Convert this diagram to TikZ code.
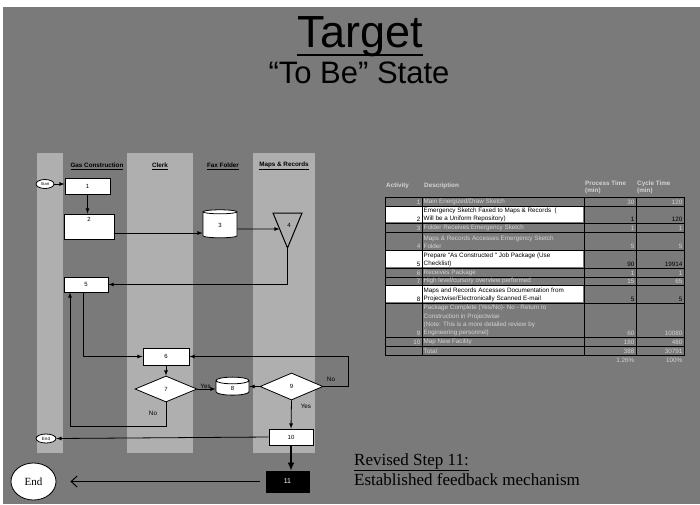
\documentclass[tikz,border=0pt]{standalone}
\usepackage{fontspec}
\setmainfont{Liberation Serif}
\newfontfamily\arialfont{Liberation Sans}
\usetikzlibrary{arrows.meta}
\usetikzlibrary{shapes.geometric}

\definecolor{slidegray}{HTML}{7A7A7A}
\definecolor{lanegray}{HTML}{AFAFAF}
\definecolor{celltext}{HTML}{D4D4D4}
\newcommand{\tabfont}{\arialfont\fontsize{6.3}{8.2}\selectfont}

\begin{document}
\begin{tikzpicture}[x=1pt, y=-1pt,
	flow/.style={draw, fill=white, line width=0.8pt, inner sep=0, font=\arialfont\fontsize{6}{7}\selectfont},
	procbox/.style={flow, rectangle},
	decision/.style={flow, diamond},
	store/.style={flow, cylinder, shape border rotate=90, aspect=1.2},
	terminal/.style={flow, ellipse},
	conn/.style={line width=0.8pt, -latex},
	lanehead/.style={font=\arialfont\bfseries\fontsize{6.3}{7}\selectfont, inner sep=0},
	answer/.style={font=\arialfont\fontsize{6.3}{7}\selectfont, inner sep=0},
	grid/.style={line width=1pt},
	headcell/.style={font=\arialfont\bfseries\fontsize{6.3}{6.5}\selectfont, text=celltext, inner sep=0, align=left},
	numcell/.style={font=\tabfont, inner sep=0.5pt, anchor=south east},
	desccell/.style={font=\tabfont, inner sep=0.5pt, anchor=south west, align=left},
	]
	\useasboundingbox (0,0) rectangle (700,504);
	\fill[white] (0,0) rectangle (700,504);
	\fill[slidegray] (3,7) rectangle (700,504);

	% title
	\node[anchor=base, font=\arialfont\fontsize{45}{45}\selectfont, inner sep=0] (title) at (360,47) {Target};
	\draw[line width=2pt] ([yshift=-8]title.base west) -- ([yshift=-8]title.base east);
	\node[anchor=base, font=\arialfont\fontsize{31}{31}\selectfont, inner sep=0] (subtitle) at (359,83) {“To Be” State};

	% swim lanes
	\fill[lanegray] (37,153) rectangle (63,453);
	\fill[lanegray] (127,153) rectangle (193,453);
	\fill[lanegray] (253,153) rectangle (315,453);
	\node[lanehead] (hgas) at (97,166) {\underline{Gas Construction}};
	\node[lanehead] (hclerk) at (160,166) {\underline{Clerk}};
	\node[lanehead] (hfax) at (223,166) {\underline{Fax Folder}};
	\node[lanehead] (hmaps) at (284,166) {\underline{Maps \& Records}};

	% flow
	\node[terminal, minimum width=18, minimum height=9, font=\arialfont\fontsize{4}{4}\selectfont] (start) at (45,184) {Start};
	\node[procbox, minimum width=45, minimum height=16] (n1) at (87.5,186) {1};
	\node[procbox, minimum width=50, minimum height=25, text depth=15pt] (n2) at (89,226.5) {2};
	\node[store, minimum width=34, minimum height=28] (n3) at (220,225) {3};
	\coordinate (t4l) at (273,213);
	\coordinate (t4r) at (302,213);
	\coordinate (t4b) at (287.5,248);
	\coordinate (t4in) at (279.6,229);
	\draw[line width=1pt] (t4l) -- (t4r) -- (t4b) -- cycle;
	\node[answer] (n4) at (289,225) {4};
	\node[procbox, minimum width=44, minimum height=15] (n5) at (86,284.5) {5};
	\node[procbox, minimum width=46, minimum height=17] (n6) at (166,356.5) {6};
	\node[decision, minimum width=62, minimum height=26] (n7) at (166,389) {7};
	\node[store, minimum width=33, minimum height=18, aspect=2] (n8) at (232.5,388) {8};
	\node[decision, minimum width=63, minimum height=27] (n9) at (291.5,386.5) {9};
	\node[procbox, minimum width=44, minimum height=16] (n10) at (291,437) {10};
	\node[terminal, minimum width=20, minimum height=9, font=\arialfont\fontsize{4.5}{4.5}\selectfont] (endS) at (46,438.5) {End};
	\node[procbox, fill=black, text=white, minimum width=43, minimum height=21, font=\arialfont\fontsize{7}{7}\selectfont] (n11) at (287.5,481.5) {11};
	\node[terminal, minimum width=45, minimum height=37, font=\fontsize{11}{11}\selectfont] (endB) at (33.5,481.5) {End};

	\draw[conn] (start) -- (start -| n1.west);
	\draw[conn] (n1.south) -- (n1.south |- n2.north);
	\draw[conn] ([yshift=-6.5]n2.east) -- ([yshift=-6.5]n2.east -| n3.west);
	\draw[conn] ([yshift=-4]n3.east) -- (t4in);
	\draw[conn] (t4b) |- (n5.east);
	\draw[conn] ([xshift=-3]n5.south) |- (n6.west);
	\draw[conn] (n6.south) -- (n7.north);
	\draw[conn] (n7.east) -- (n7.east -| n8.west) node[answer, above, pos=0.45] (yes7) {Yes};
	\draw[conn] (n7.south) -- ++(0,24) -| ([xshift=-16]n5.south);
	\node[answer] (no7) at (153,413) {No};
	\draw[conn] (n9.west) -- (n9.west -| n8.east);
	\draw[conn] (n9.east) -- ++(25,0) |- (n6.east);
	\node[answer] (no9) at (331,379) {No};
	\draw[conn] (n9.south) -- (n10.north);
	\node[answer] (yes9) at (306,406) {Yes};
	\draw[conn] (n10.west) -- (endS.east);
	\draw[line width=1.8pt, -{Latex[length=8pt,width=7pt]}] (n10.south) -- (n10.south |- n11.north);
	\draw[line width=1pt, -{Straight Barb[length=6pt,width=11pt]}, shorten <=6pt, shorten >=14pt] (n11.west) -- (endB.east);

	% revised step note
	\node[anchor=base west, font=\fontsize{17}{17}\selectfont, inner sep=0] (revised) at (354,465) {\underline{Revised Step 11:}};
	\node[anchor=base west, font=\fontsize{17}{17}\selectfont, inner sep=0] (feedback) at (354,485) {Established feedback mechanism};

	% activity table
	\fill[white] (386,207) rectangle (583,222);
	\fill[white] (386,251) rectangle (583,267);
	\fill[white] (386,286) rectangle (583,302);
	\draw[grid] (385,197) rectangle (684,355);
	\foreach \x in {422,584,636}
		\draw[grid] (\x,197) -- (\x,355);
	\foreach \y in {206,223,232,250,268,277,285,303,337,346}
		\draw[grid] (385,\y) -- (684,\y);

	\node[headcell, anchor=base west] (hact) at (386,187) {Activity};
	\node[headcell, anchor=base west] (hdesc) at (424,187) {Description};
	\node[headcell, anchor=north west] (hproc) at (585,181) {Process Time\\(min)};
	\node[headcell, anchor=north west] (hcyc) at (637,181) {Cycle Time\\(min)};

	\node[numcell, text=celltext] (a1) at (421,205.5) {1};
	\node[desccell, text=celltext] (d1) at (423,205.5) {Main Energized/Draw Sketch};
	\node[numcell, text=celltext] (p1) at (635,205.5) {30};
	\node[numcell, text=celltext] (c1) at (683,205.5) {120};

	\node[numcell] (a2) at (421,222.5) {2};
	\node[desccell] (d2) at (423,222.5) {Emergency Sketch Faxed to Maps \& Records \ (\\Will be a Uniform Repository)};
	\node[numcell] (p2) at (635,222.5) {1};
	\node[numcell] (c2) at (683,222.5) {120};

	\node[numcell, text=celltext] (a3) at (421,231.5) {3};
	\node[desccell, text=celltext] (d3) at (423,231.5) {Folder Receives Emergency Sketch};
	\node[numcell, text=celltext] (p3) at (635,231.5) {1};
	\node[numcell, text=celltext] (c3) at (683,231.5) {1};

	\node[numcell, text=celltext] (a4) at (421,249.5) {4};
	\node[desccell, text=celltext] (d4) at (423,249.5) {Maps \& Records Accesses Emergency Sketch\\Folder};
	\node[numcell, text=celltext] (p4) at (635,249.5) {5};
	\node[numcell, text=celltext] (c4) at (683,249.5) {5};

	\node[numcell] (a5) at (421,267.5) {5};
	\node[desccell] (d5) at (423,267.5) {Prepare "As Constructed " Job Package (Use\\Checklist)};
	\node[numcell] (p5) at (635,267.5) {90};
	\node[numcell] (c5) at (683,267.5) {19914};

	\node[numcell, text=celltext] (a6) at (421,276.5) {6};
	\node[desccell, text=celltext] (d6) at (423,276.5) {Receives Package};
	\node[numcell, text=celltext] (p6) at (635,276.5) {1};
	\node[numcell, text=celltext] (c6) at (683,276.5) {1};

	\node[numcell, text=celltext] (a7) at (421,284.5) {7};
	\node[desccell, text=celltext] (d7) at (423,284.5) {High level/cursory overview performed};
	\node[numcell, text=celltext] (p7) at (635,284.5) {15};
	\node[numcell, text=celltext] (c7) at (683,284.5) {65};

	\node[numcell] (a8) at (421,302.5) {8};
	\node[desccell] (d8) at (423,302.5) {Maps and Records Accesses Documentation from\\Projectwise/Electronically Scanned E-mail};
	\node[numcell] (p8) at (635,302.5) {5};
	\node[numcell] (c8) at (683,302.5) {5};

	\node[numcell, text=celltext] (a9) at (421,336.5) {9};
	\node[desccell, text=celltext] (d9) at (423,336.5) {Package Complete (Yes/No)- No - Return to\\Construction in Projectwise\\(Note: This is a more detailed review by\\Engineering personnel)};
	\node[numcell, text=celltext] (p9) at (635,336.5) {60};
	\node[numcell, text=celltext] (c9) at (683,336.5) {10080};

	\node[numcell, text=celltext] (a10) at (421,345.5) {10};
	\node[desccell, text=celltext] (d10) at (423,345.5) {Map New Facility};
	\node[numcell, text=celltext] (p10) at (635,345.5) {180};
	\node[numcell, text=celltext] (c10) at (683,345.5) {480};

	\node[desccell, text=celltext] (dtot) at (423,354.5) {Total};
	\node[numcell, text=celltext] (ptot) at (635,354.5) {388};
	\node[numcell, text=celltext] (ctot) at (683,354.5) {30791};
	\node[numcell, text=celltext] (ppct) at (635,363) {1.26\%};
	\node[numcell, text=celltext] (cpct) at (683,363) {100\%};
\end{tikzpicture}
\end{document}
